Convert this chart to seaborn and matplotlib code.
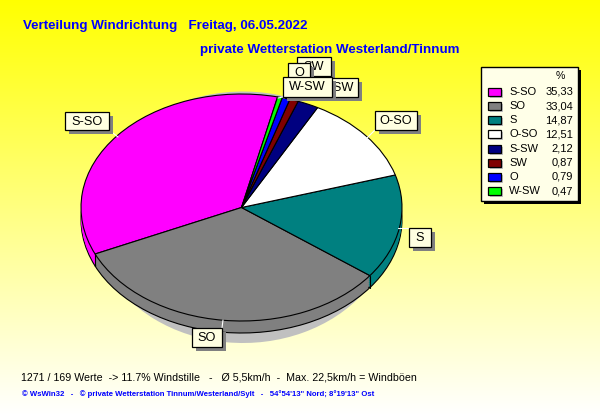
import numpy as np
import matplotlib
matplotlib.use("Agg")
import matplotlib.pyplot as plt
from matplotlib.patches import Rectangle
import seaborn as sns

# wind direction shares, percent
directions = ["S-SO", "SO", "S", "O-SO", "S-SW", "SW", "O", "W-SW"]
shares = [35.33, 33.04, 14.87, 12.51, 2.12, 0.87, 0.79, 0.47]
share_labels = ["35,33", "33,04", "14,87", "12,51", "2,12", "0,87", "0,79", "0,47"]
colors = ["#ff00ff", "#808080", "#008080", "#ffffff", "#000080", "#800000", "#0000ff", "#00ff00"]

title_left = "Verteilung Windrichtung   Freitag, 06.05.2022"
title_right = "private Wetterstation Westerland/Tinnum"
footer_1 = "1271 / 169 Werte  -> 11.7% Windstille   -   Ø 5,5km/h  -  Max. 22,5km/h = Windböen"
footer_2 = "© WsWin32   -   © private Wetterstation Tinnum/Westerland/Sylt   -   54°54'13\" Nord; 8°19'13\" Ost"

# label boxes in draw order: name, left, top, right, bottom, leader start, leader end
label_boxes = [
    ("S-SO", 65, 112, 109, 130, (109, 130), (118, 137)),
    ("O-SO", 375, 111, 417, 130, (375, 130), (367, 138)),
    ("S", 409, 228, 431, 247, (409, 228), (398, 228)),
    ("SO", 192, 328, 222, 347, (222, 328), (223, 320)),
    ("SW", 297, 57, 331, 76, (297, 76), (290, 98)),
    ("S-SW", 316, 78, 358, 97, (316, 97), (300, 100)),
    ("O", 288, 63, 310, 82, (288, 82), (284, 98)),
    ("W-SW", 283, 77, 332, 97, (283, 97), (278, 98)),
]

START = 77
PIE_L, PIE_R, PIE_T, PIE_B = 81, 402, 94, 321
DEPTH = 12

sns.set_theme(style="white")
plt.rcParams["font.family"] = ["Liberation Sans", "DejaVu Sans"]

W, H = 600, 415
fig = plt.figure(figsize=(W / 100, H / 100), dpi=100)

# yellow to white background
bg = fig.add_axes([0, 0, 1, 1], zorder=0)
bg.imshow(np.linspace(0, 1, 256).reshape(-1, 1), extent=[0, W, H, 0], aspect="auto",
          cmap=matplotlib.colors.LinearSegmentedColormap.from_list("bg", ["#ffff00", "#ffffff"]))
bg.axis("off")


def pie_axes(left, right, top, bottom, z):
    return fig.add_axes([left / W, 1 - bottom / H, (right - left) / W, (bottom - top) / H], zorder=z)


def draw_pie(ax, cols, edge, lw=0.8):
    ax.pie(shares, colors=cols, startangle=START, counterclock=True, radius=1,
           wedgeprops=dict(edgecolor=edge, linewidth=lw))
    ax.set_aspect("auto")
    ax.set_xlim(-1, 1)
    ax.set_ylim(-1, 1)
    ax.axis("off")


# soft shadow behind the pie
draw_pie(pie_axes(92, 394, 91.5, 343, 1), ["#c0c0c0"] * len(shares), "none", 0)
# side wall: rim with outline, filled layers above it, then the top face
draw_pie(pie_axes(PIE_L, PIE_R, PIE_T + DEPTH, PIE_B + DEPTH, 2), colors, "black")
for i, off in enumerate(range(DEPTH - 2, 0, -2)):
    draw_pie(pie_axes(PIE_L, PIE_R, PIE_T + off, PIE_B + off, 3 + i), colors, "none", 0)
draw_pie(pie_axes(PIE_L, PIE_R, PIE_T, PIE_B, 10), colors, "black")

ov = fig.add_axes([0, 0, 1, 1], zorder=11)
ov.set_xlim(0, W)
ov.set_ylim(H, 0)
ov.axis("off")
ov.patch.set_alpha(0)

# vertical edges on the wall where wedges meet in the lower half
cx0, cy0 = (PIE_L + PIE_R) / 2, (PIE_T + PIE_B) / 2
rx, ry = (PIE_R - PIE_L) / 2, (PIE_B - PIE_T) / 2
for ang in START + np.cumsum(shares) * 3.6:
    if np.sin(np.radians(ang)) < 0:
        x = cx0 + rx * np.cos(np.radians(ang))
        y = cy0 - ry * np.sin(np.radians(ang))
        ov.plot([x, x], [y, y + DEPTH], color="black", lw=0.8)

# labels on the pie, each one stacked above the one before
for i, (name, l, t, r, b, start, end) in enumerate(label_boxes):
    z = 5 + i * 4
    ov.plot([start[0], end[0]], [start[1], end[1]], color="white", lw=0.8, zorder=z)
    ov.add_patch(Rectangle((l + 4, t + 4), r - l, b - t, fc="#808080", ec="none", zorder=z + 1))
    ov.add_patch(Rectangle((l, t), r - l, b - t, fc="#ffffe1", ec="black", lw=0.9, zorder=z + 2))
    ov.text((l + r) / 2, (t + b) / 2 + 0.5, name, ha="center", va="center", fontsize=9.2,
            color="black", zorder=z + 3)

# legend
ov.add_patch(Rectangle((484, 70), 97, 134, fc="black", ec="none"))
ov.add_patch(Rectangle((481, 67), 97, 134, fc="#ffffe8", ec="black", lw=1))
ov.text(560, 76, "%", ha="center", va="center", fontsize=7.6, color="black")
for i, (name, val, col) in enumerate(zip(directions, share_labels, colors)):
    y = 92 + i * 14.15
    ov.add_patch(Rectangle((490, y - 2), 13, 8, fc="#c0c0c0", ec="none"))
    ov.add_patch(Rectangle((488, y - 4), 13, 8, fc=col, ec="black", lw=0.9))
    ov.text(509, y, name, ha="left", va="center", fontsize=8, color="black")
    ov.text(573, y, val, ha="right", va="center", fontsize=8, color="black")

# titles and footers
ov.text(23, 26, title_left, ha="left", va="center", fontsize=9.6, fontweight="bold", color="#0000ff")
ov.text(200, 50, title_right, ha="left", va="center", fontsize=9.6, fontweight="bold", color="#0000ff")
ov.text(21, 377, footer_1, ha="left", va="center", fontsize=7.68, color="black")
ov.text(22, 394, footer_2, ha="left", va="center", fontsize=5.55, fontweight="bold", color="#0000ff")

fig.savefig("out.png", dpi=100)
